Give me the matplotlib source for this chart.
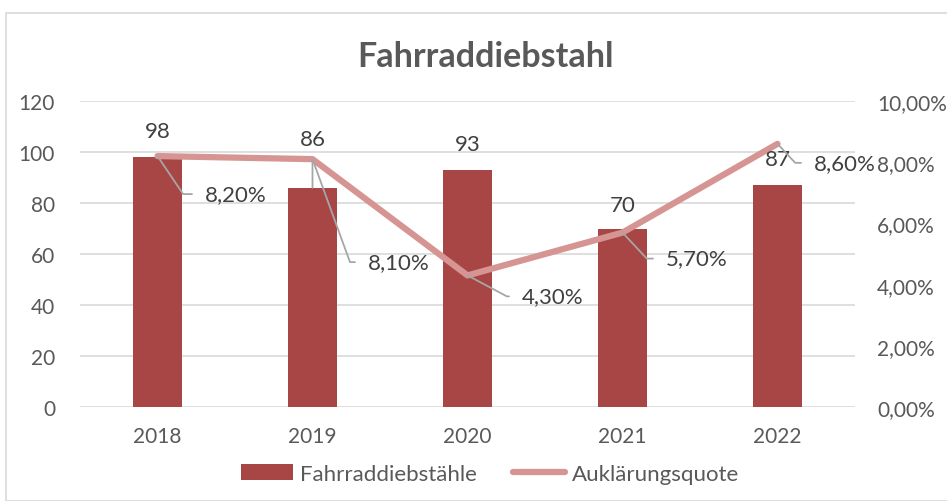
import matplotlib
matplotlib.use("Agg")
import matplotlib.pyplot as plt
from matplotlib.patches import Rectangle
from matplotlib.ticker import FuncFormatter

plt.rcParams["font.family"] = ["Lato", "DejaVu Sans"]

years = ["2018", "2019", "2020", "2021", "2022"]
thefts = [98, 86, 93, 70, 87]
clearance = [8.2, 8.1, 4.3, 5.7, 8.6]  # percent

PX = 0.72  # points per pixel at dpi 100

# count labels: anchored on bar top or on line point, offset in px
count_anchor = ["bar", "line", "bar", "bar", "bar"]
count_offsets = [(0, 26), (0, 20), (0, 26), (0, 24), (0, 26)]
# quote labels: text start offset in px and leader angle
quote_offsets = [(47, -38), (55, -103), (54, -21), (43, -26), (36, -19)]
leader_angles = [-56, -70, -28, -47, -47]

bar_color = "#A84646"
line_color = "#D69493"
text_color = "#404040"
tick_color = "#595959"
grid_color = "#D9D9D9"
leader_color = "#A6A6A6"

fig = plt.figure(figsize=(9.47, 5.02), dpi=100)
fig.patches.append(Rectangle((6 / 947, 0.0), 1.0, 1 - 14 / 502, transform=fig.transFigure,
                             fill=False, edgecolor=grid_color, linewidth=1.2))

ax = fig.add_axes([80 / 947, 94 / 502, 775 / 947, 306 / 502])
ax2 = ax.twinx()

x = list(range(len(years)))
bars = ax.bar(x, thefts, width=0.31, color=bar_color, label="Fahrraddiebstähle", zorder=2)
ax.set_xlim(-0.5, len(years) - 0.5)
ax.set_ylim(0, 120)
ax.set_yticks(range(0, 121, 20))
ax.set_xticks(x)
ax.set_xticklabels(years)
ax.grid(axis="y", color=grid_color, linewidth=1.2, zorder=0)
ax.set_axisbelow(True)

ln, = ax2.plot(x, clearance, color=line_color, linewidth=4.5, solid_capstyle="round",
               label="Auklärungsquote", zorder=3)
ax2.set_ylim(0, 10)
ax2.set_yticks(range(0, 11, 2))
ax2.yaxis.set_major_formatter(FuncFormatter(lambda v, p: f"{v:.2f}%".replace(".", ",")))

for a in (ax, ax2):
    for s in a.spines.values():
        s.set_visible(False)
    a.tick_params(length=0, labelsize=15, colors=tick_color)
ax.tick_params(axis="y", pad=18)
ax.tick_params(axis="x", pad=14)
ax2.tick_params(axis="y", pad=16)

# count labels
for i, (v, anchor, off) in enumerate(zip(thefts, count_anchor, count_offsets)):
    bar_top = v / 12  # bar height in right-axis units
    xy = (i, bar_top) if anchor == "bar" else (i, clearance[i])
    ax2.annotate(str(v), xy=xy, xytext=(off[0] * PX, off[1] * PX), textcoords="offset points",
                 ha="center", va="center", fontsize=16, color=text_color, zorder=5)
    if anchor == "line":
        # leader from the moved label's anchor down to the bar top
        ax2.annotate("", xy=(i, bar_top), xytext=(i, clearance[i]),
                     arrowprops=dict(arrowstyle="-", color=leader_color, lw=1.3,
                                     shrinkA=0, shrinkB=0))

# quote labels with leader lines
for i, (q, off, ang) in enumerate(zip(clearance, quote_offsets, leader_angles)):
    label = f"{q:.2f}%".replace(".", ",")
    ax2.annotate(label, xy=(i, q), xytext=(off[0] * PX, off[1] * PX), textcoords="offset points",
                 ha="left", va="center", fontsize=16, color=text_color, zorder=5,
                 arrowprops=dict(arrowstyle="-", color=leader_color, lw=1.3,
                                 shrinkA=7, shrinkB=0, relpos=(0, 0.5),
                                 connectionstyle=f"angle,angleA=180,angleB={ang},rad=0"))

fig.text(485 / 947, 1 - 57 / 502, "Fahrraddiebstahl", ha="center", va="center",
         fontsize=24.5, fontweight="bold", color=tick_color)

fig.legend(handles=[bars, ln], loc="center", bbox_to_anchor=(490 / 947, 1 - 475 / 502), ncol=2,
           frameon=False, fontsize=16, labelcolor=tick_color, handlelength=2.35,
           handleheight=0.75, columnspacing=1.6, handletextpad=0.3)

fig.savefig("out.png", dpi=100)
